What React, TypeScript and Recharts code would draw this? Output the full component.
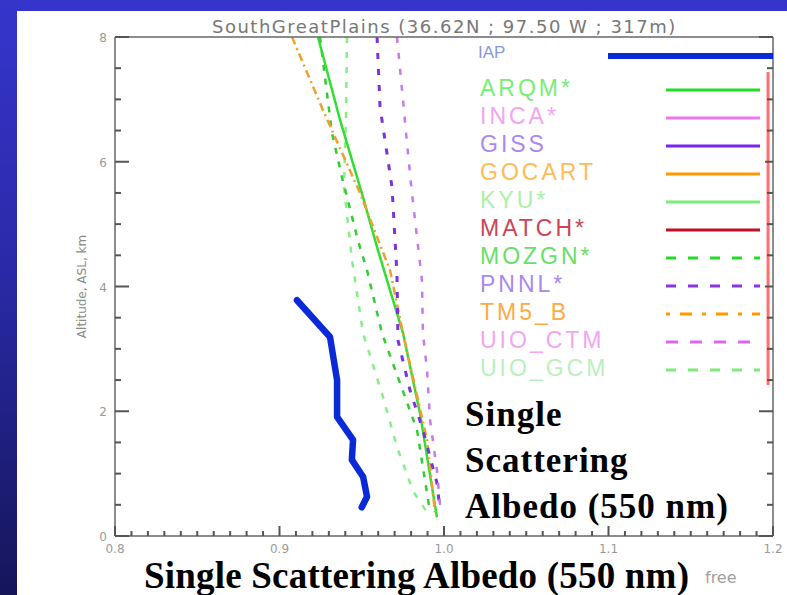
import React from "react";
import { ComposedChart, Line, XAxis, YAxis, Legend, ReferenceLine } from "recharts";

// model names + legend styling (row order as in the figure)
const iapName = "IAP";
const legendNames = ["ARQM*", "INCA*", "GISS", "GOCART", "KYU*", "MATCH*", "MOZGN*", "PNNL*", "TM5_B", "UIO_CTM", "UIO_GCM"];
const legendLineColors = ["#22dd22", "#ee77ee", "#7a22ee", "#ff9900", "#77ee77", "#bb1122", "#22dd22", "#8833ee", "#ff9900", "#dd66ee", "#77ee77"];
const legendTextColors = ["#77ee77", "#f4a4f4", "#aa88f0", "#ffbb55", "#aaf0aa", "#cc4455", "#66e066", "#aa88f0", "#ffaa44", "#f4a4f4", "#bbf0bb"];
const legendDashes = ["", "", "", "", "", "", "10 12", "10 12", "4 10 12 10", "12 12", "10 12"];

// profiles: single scattering albedo vs altitude (km)
const iapSsa = [0.9106, 0.9307, 0.935, 0.935, 0.9447, 0.944, 0.9508, 0.9532, 0.95];
const iapAlt = [3.78, 3.19, 2.5, 1.91, 1.54, 1.22, 0.95, 0.63, 0.46];
const arqmSsa = [0.9234, 0.9368, 0.9508, 0.9593, 0.9751, 0.9854, 0.9957];
const arqmAlt = [8.0, 6.67, 5.43, 4.63, 3.25, 1.97, 0.3];
const tm5Ssa = [0.9076, 0.9264, 0.9489, 0.9672, 0.9751, 0.9897, 0.9945];
const tm5Alt = [8.0, 6.83, 5.5, 4.26, 3.25, 1.54, 0.38];
const mozgnSsa = [0.9246, 0.9319, 0.938, 0.9477, 0.9532, 0.9623, 0.9836, 0.9915];
const mozgnAlt = [8.0, 6.46, 5.75, 4.74, 4.26, 3.25, 1.7, 0.38];
const uioGcmSsa = [0.941, 0.9404, 0.9392, 0.9441, 0.9508, 0.9629, 0.9714, 0.9812, 0.9897];
const uioGcmAlt = [8.0, 6.67, 5.59, 4.42, 3.25, 2.23, 1.43, 0.72, 0.38];
const pnnlSsa = [0.9593, 0.9611, 0.9653, 0.9684, 0.9714, 0.972, 0.9793, 0.9872, 0.9957, 0.9976];
const pnnlAlt = [8.0, 6.88, 6.14, 5.59, 4.21, 3.14, 2.34, 1.7, 0.85, 0.42];
const uioCtmSsa = [0.9714, 0.9745, 0.9775, 0.9805, 0.9866, 0.9872, 0.9897, 0.9915, 0.9957, 0.9976];
const uioCtmAlt = [8.0, 7.15, 6.3, 5.5, 4.1, 3.25, 2.66, 1.86, 1.06, 0.5];

// red marker line in the legend box
const redLineSsa = 1.197;
const redLineAlt = [2.42, 7.44];

const xTickLabels = [0.8, 0.9, 1.0, 1.1, 1.2];
const yTickLabels = [0, 2, 4, 6, 8];
const xTicks = Array.from({ length: 41 }, (_, i) => Math.round((0.8 + i * 0.01) * 100) / 100);
const yTicks = Array.from({ length: 17 }, (_, i) => i * 0.5);

const toPoints = (ssa: number[], alt: number[]) => ssa.map((s, i) => ({ ssa: s, alt: alt[i] }));

const axisColor = "#666666";
const tickColor = "#555555";
const labelColor = "#9a9a9a";

const isMajorX = (v: number) => Math.abs(v * 10 - Math.round(v * 10)) < 1e-6;
const isMajorY = (v: number) => Math.abs(v % 2) < 1e-6;

// IDL style: ticks point into the plot, labels outside
const renderBottomTick = (props: any) => {
  const { x, y, payload } = props;
  const major = isMajorX(payload.value);
  const axisY = Number(y) - 8;
  return (
    <g key={`b-${payload.value}`}>
      <path d={`M${x},${axisY}V${axisY - (major ? 10 : 5)}`} stroke={tickColor} strokeWidth={2} fill="none" />
      {xTickLabels.some((t) => Math.abs(t - payload.value) < 1e-6) && (
        <text x={x} y={axisY + 17} textAnchor="middle" fill={labelColor} fontSize={12} fontFamily="DejaVu Sans">
          {payload.value.toFixed(1)}
        </text>
      )}
    </g>
  );
};

const renderTopTick = (props: any) => {
  const { x, y, payload } = props;
  const major = isMajorX(payload.value);
  const axisY = Number(y);
  return (
    <g key={`t-${payload.value}`}>
      <path d={`M${x},${axisY}V${axisY + (major ? 10 : 5)}`} stroke={tickColor} strokeWidth={2} fill="none" />
    </g>
  );
};

const renderLeftTick = (props: any) => {
  const { x, y, payload } = props;
  const major = isMajorY(payload.value);
  const axisX = Number(x) + 8;
  return (
    <g key={`l-${payload.value}`}>
      <path d={`M${axisX},${y}H${axisX + (major ? 14 : 6)}`} stroke={tickColor} strokeWidth={2} fill="none" />
      {yTickLabels.includes(payload.value) && (
        <text x={x} y={Number(y) + 5} textAnchor="end" fill={labelColor} fontSize={12} fontFamily="DejaVu Sans">
          {payload.value}
        </text>
      )}
    </g>
  );
};

const renderRightTick = (props: any) => {
  const { x, y, payload } = props;
  const major = isMajorY(payload.value);
  const axisX = Number(x);
  return (
    <g key={`r-${payload.value}`}>
      <path d={`M${axisX},${y}H${axisX - (major ? 14 : 6)}`} stroke={tickColor} strokeWidth={2} fill="none" />
    </g>
  );
};

// legend drawn in page coordinates through the viewBox
const LegendBox = () => (
  <svg width={320} height={350} viewBox="458 38 320 350" style={{ display: "block" }}>
    <text x={478} y={58} fill="#8898dc" fontSize={17} fontFamily="Liberation Sans">
      {iapName}
    </text>
    <line x1={608} x2={773} y1={56} y2={56} stroke="#0a2ad8" strokeWidth={6} />
    <rect x={463} y={68} width={302} height={320} fill="#ffffff" />
    {legendNames.map((name, i) => {
      const rowY = 88 + i * 28;
      return (
        <g key={name}>
          <text x={480} y={rowY + 8} fill={legendTextColors[i]} fontSize={23} letterSpacing={3} fontFamily="Liberation Sans">
            {name}
          </text>
          <line
            x1={666}
            x2={760}
            y1={rowY + 2}
            y2={rowY + 2}
            stroke={legendLineColors[i]}
            strokeWidth={3}
            strokeDasharray={legendDashes[i] || undefined}
          />
        </g>
      );
    })}
  </svg>
);

const App: React.FC = () => {
  return (
    <div
      style={{
        position: "absolute",
        left: 0,
        top: 0,
        width: 787,
        height: 595,
        overflow: "hidden",
        background: "linear-gradient(to bottom, #3535cc 0%, #2a2aa8 45%, #15155a 100%)",
      }}
    >
      <div style={{ position: "absolute", left: 17, top: 11, right: 0, bottom: 0, background: "#ffffff" }} />
      <div
        style={{
          position: "absolute",
          left: 212,
          top: 16,
          fontFamily: "DejaVu Sans",
          fontSize: 18,
          letterSpacing: 1.5,
          color: "#777777",
          whiteSpace: "nowrap",
        }}
      >
        SouthGreatPlains (36.62N ; 97.50 W ; 317m)
      </div>
      <div style={{ position: "absolute", left: 0, top: 0 }}>
        <ComposedChart width={787} height={595} margin={{ top: 37, right: 14, bottom: 29, left: 70 }}>
          <XAxis
            xAxisId="b"
            type="number"
            dataKey="ssa"
            domain={[0.8, 1.2]}
            allowDataOverflow
            ticks={xTicks}
            interval={0}
            tickLine={false}
            tickSize={0}
            tickMargin={8}
            height={30}
            axisLine={{ stroke: axisColor, strokeWidth: 1.5 }}
            tick={renderBottomTick}
          />
          <XAxis
            xAxisId="t"
            orientation="top"
            mirror
            type="number"
            domain={[0.8, 1.2]}
            allowDataOverflow
            ticks={xTicks}
            interval={0}
            tickLine={false}
            tickSize={0}
            tickMargin={0}
            axisLine={{ stroke: axisColor, strokeWidth: 1.5 }}
            tick={renderTopTick}
          />
          <YAxis
            yAxisId="l"
            type="number"
            dataKey="alt"
            domain={[0, 8]}
            allowDataOverflow
            ticks={yTicks}
            interval={0}
            tickLine={false}
            tickSize={0}
            tickMargin={8}
            width={45}
            axisLine={{ stroke: axisColor, strokeWidth: 1.5 }}
            tick={renderLeftTick}
            label={{
              value: "Altitude, ASL, km",
              angle: -90,
              position: "insideLeft",
              offset: 12,
              style: { textAnchor: "middle", fill: "#8a8a8a", fontSize: 12, fontFamily: "DejaVu Sans" },
            }}
          />
          <YAxis
            yAxisId="r"
            orientation="right"
            mirror
            type="number"
            domain={[0, 8]}
            allowDataOverflow
            ticks={yTicks}
            interval={0}
            tickLine={false}
            tickSize={0}
            tickMargin={0}
            axisLine={{ stroke: axisColor, strokeWidth: 1.5 }}
            tick={renderRightTick}
          />
          <Legend
            layout="vertical"
            align="center"
            verticalAlign="middle"
            wrapperStyle={{ left: 458, top: 38, width: 320, height: 350 }}
            content={() => <LegendBox />}
          />
          <Line xAxisId="b" yAxisId="l" data={toPoints(uioGcmSsa, uioGcmAlt)} dataKey="alt" name="UIO_GCM" stroke="#88ee88" strokeWidth={2.5} strokeDasharray="6 9" dot={false} isAnimationActive={false} />
          <Line xAxisId="b" yAxisId="l" data={toPoints(mozgnSsa, mozgnAlt)} dataKey="alt" name="MOZGN*" stroke="#33cc33" strokeWidth={2.5} strokeDasharray="6 8" dot={false} isAnimationActive={false} />
          <Line xAxisId="b" yAxisId="l" data={toPoints(arqmSsa, arqmAlt)} dataKey="alt" name="ARQM*" stroke="#33dd33" strokeWidth={2.5} dot={false} isAnimationActive={false} />
          <Line xAxisId="b" yAxisId="l" data={toPoints(tm5Ssa, tm5Alt)} dataKey="alt" name="TM5_B" stroke="#f0a030" strokeWidth={2.5} strokeDasharray="8 4 2 4" dot={false} isAnimationActive={false} />
          <Line xAxisId="b" yAxisId="l" data={toPoints(pnnlSsa, pnnlAlt)} dataKey="alt" name="PNNL*" stroke="#7a33dd" strokeWidth={3} strokeDasharray="6 10" dot={false} isAnimationActive={false} />
          <Line xAxisId="b" yAxisId="l" data={toPoints(uioCtmSsa, uioCtmAlt)} dataKey="alt" name="UIO_CTM" stroke="#c57ae8" strokeWidth={2.5} strokeDasharray="6 10" dot={false} isAnimationActive={false} />
          <Line xAxisId="b" yAxisId="l" data={toPoints(iapSsa, iapAlt)} dataKey="alt" name="IAP" stroke="#0a2ad8" strokeWidth={6.5} strokeLinejoin="round" strokeLinecap="round" dot={false} isAnimationActive={false} />
          <ReferenceLine
            xAxisId="b"
            yAxisId="l"
            segment={[
              { x: redLineSsa, y: redLineAlt[0] },
              { x: redLineSsa, y: redLineAlt[1] },
            ]}
            stroke="#ff6f6f"
            strokeWidth={3}
          />
        </ComposedChart>
      </div>
      <div
        style={{
          position: "absolute",
          left: 462,
          top: 388,
          width: 272,
          height: 138,
          background: "#ffffff",
          paddingTop: 4,
          paddingLeft: 3,
          boxSizing: "border-box",
          fontFamily: "Liberation Serif",
          fontWeight: "bold",
          fontSize: 35,
          lineHeight: "46px",
          letterSpacing: 1,
          color: "#000000",
        }}
      >
        Single
        <br />
        Scattering
        <br />
        Albedo (550 nm)
      </div>
      <div
        style={{
          position: "absolute",
          left: 142,
          top: 557,
          paddingLeft: 2,
          paddingRight: 2,
          height: 38,
          boxSizing: "border-box",
          background: "#ffffff",
          fontFamily: "Liberation Serif",
          fontWeight: "bold",
          fontSize: 37,
          lineHeight: "37px",
          letterSpacing: 0.2,
          color: "#000000",
          whiteSpace: "nowrap",
        }}
      >
        Single Scattering Albedo (550 nm)
      </div>
      <div
        style={{
          position: "absolute",
          left: 705,
          top: 568,
          fontFamily: "DejaVu Sans",
          fontSize: 16,
          color: "#a0a0a0",
        }}
      >
        free
      </div>
    </div>
  );
};

export default App;
